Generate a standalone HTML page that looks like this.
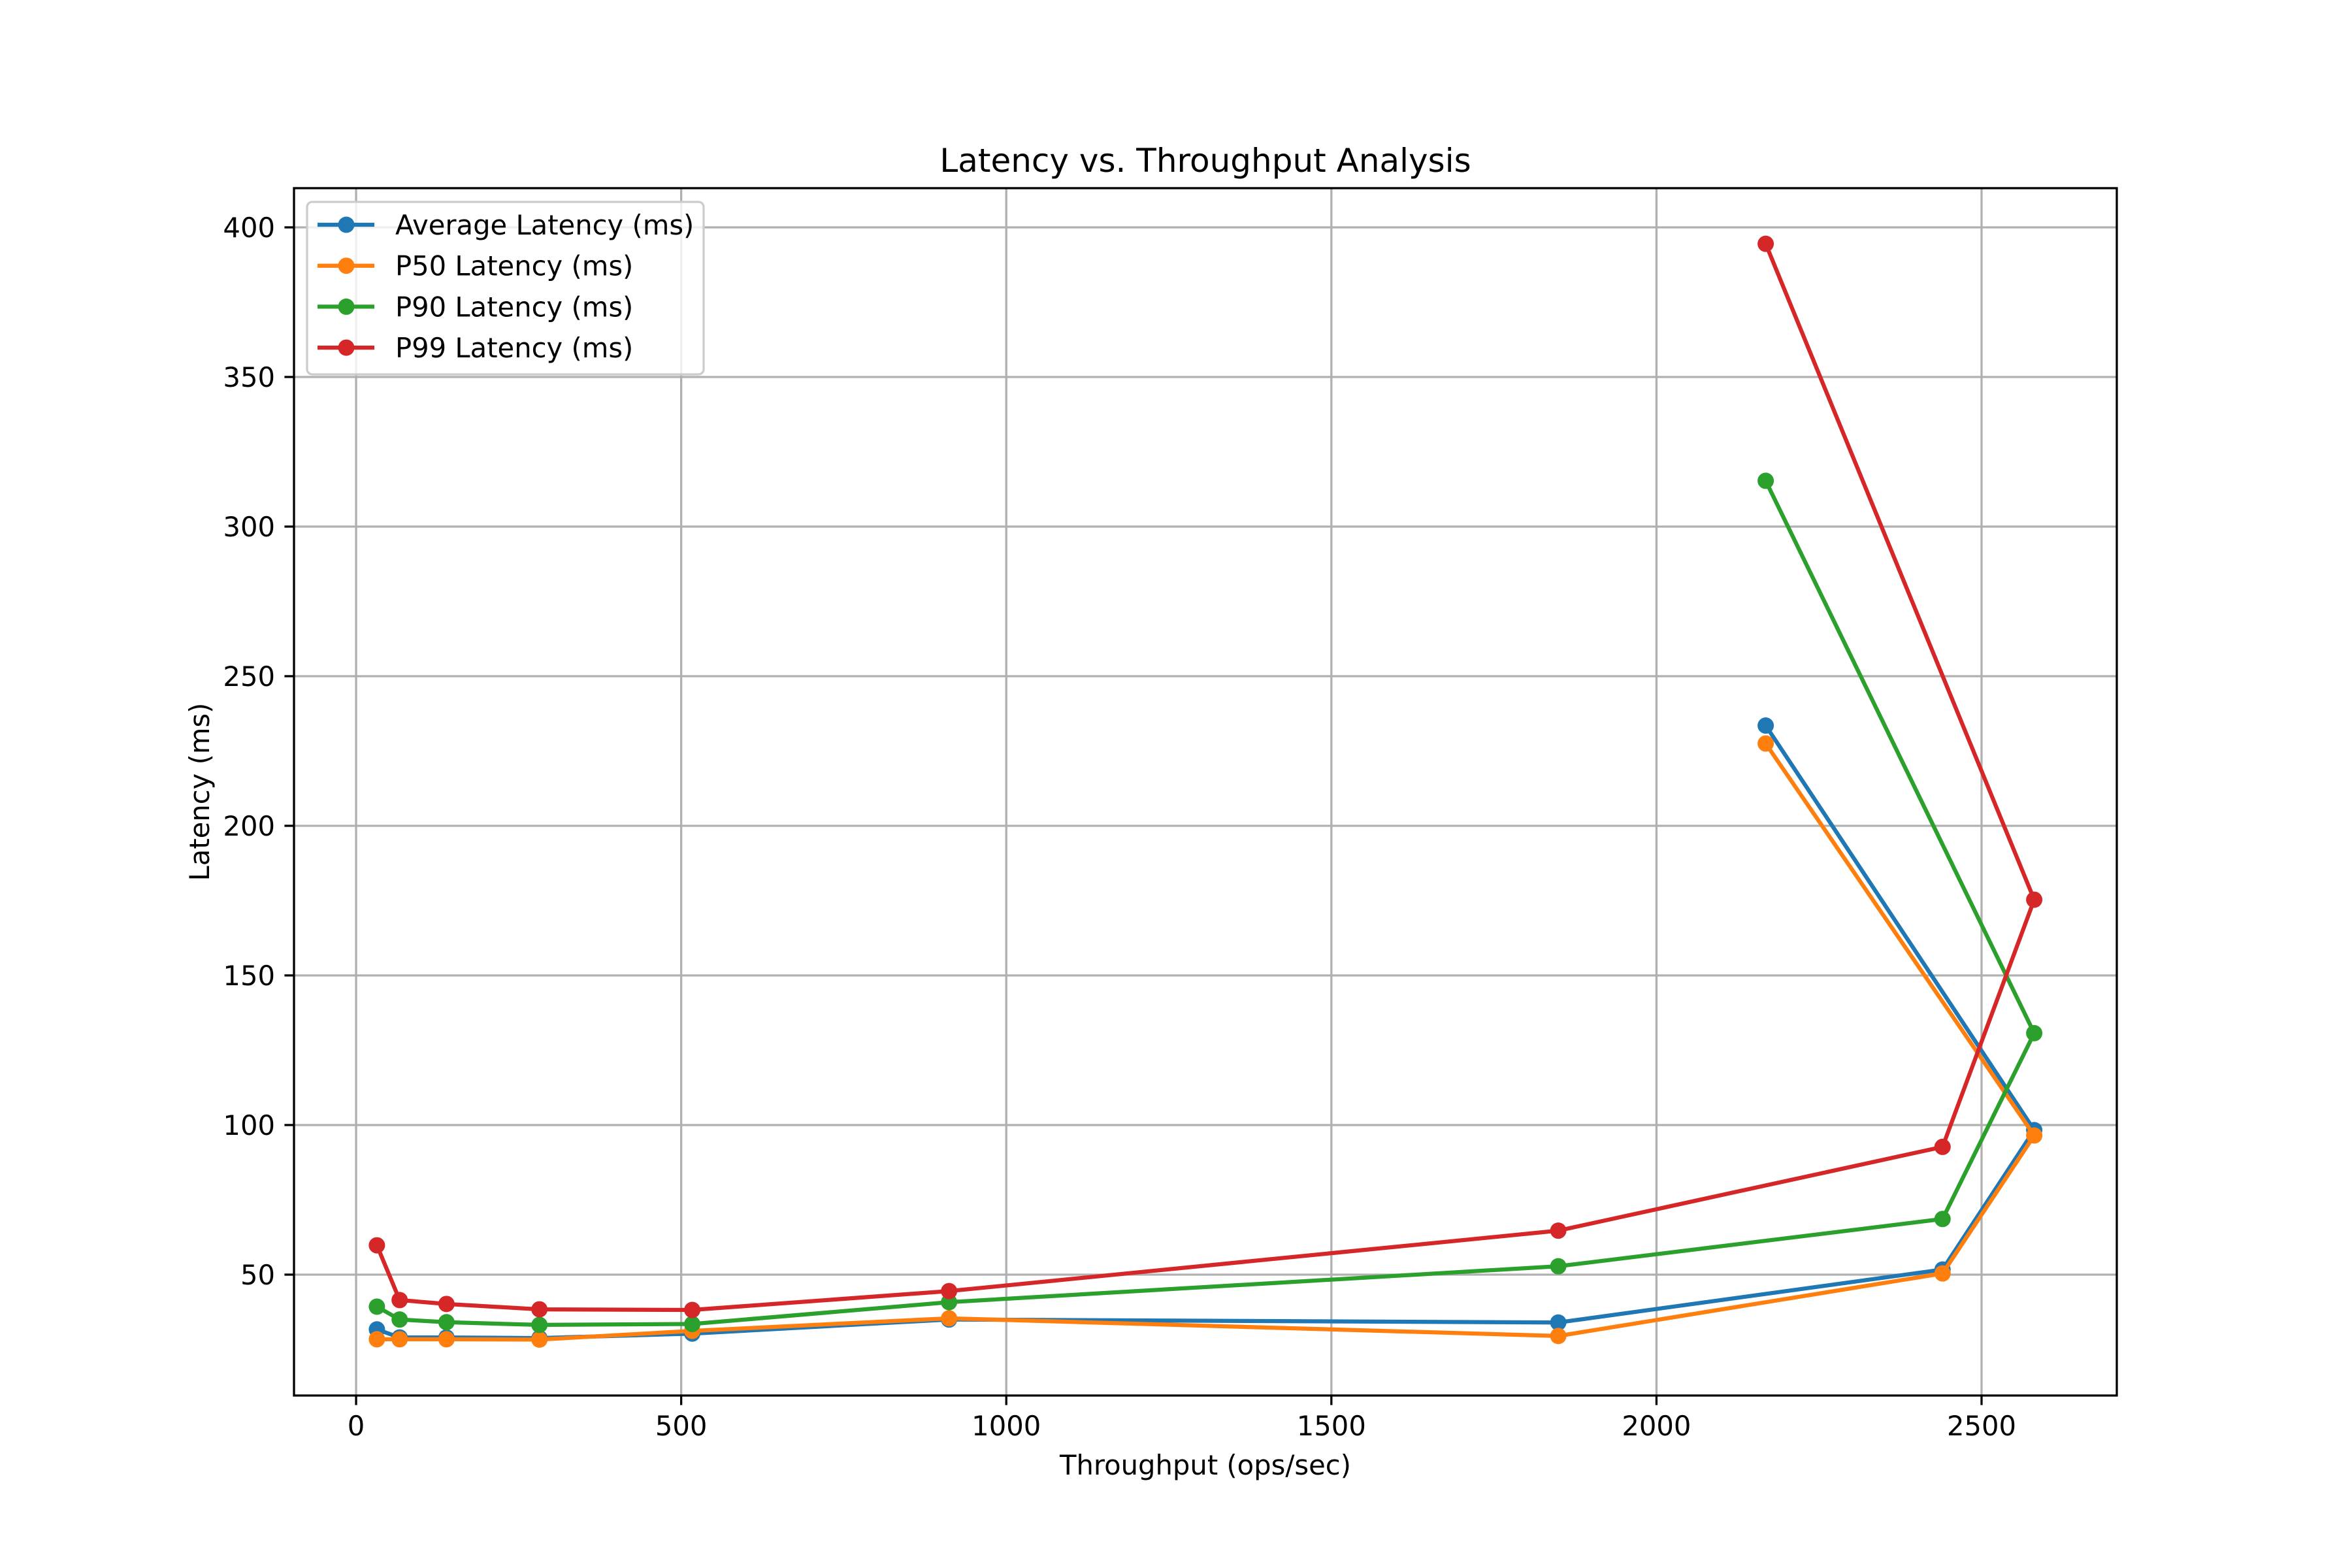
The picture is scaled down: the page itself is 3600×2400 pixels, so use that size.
<!DOCTYPE html>
<html><head><meta charset="utf-8"><style>
html,body{margin:0;padding:0;background:#fff;}
svg{display:block;font-family:"DejaVu Sans","Liberation Sans",sans-serif;}
</style></head><body>
<svg id="chart" width="3600" height="2400" viewBox="0 0 3600 2400" xmlns="http://www.w3.org/2000/svg">
<rect x="0" y="0" width="3600" height="2400" fill="#fff"/>
<g id="grid"></g>
<g id="series"></g>
<rect x="450" y="288" width="2790" height="1848" fill="none" stroke="#000" stroke-width="3.3"/>
<g id="ticks"></g>
<text x="1845" y="263" font-size="50" text-anchor="middle">Latency vs. Throughput Analysis</text>
<text x="1845" y="2257" font-size="41.7" text-anchor="middle">Throughput (ops/sec)</text>
<text transform="translate(320,1212) rotate(-90)" font-size="41.7" text-anchor="middle">Latency (ms)</text>
<g id="legend"></g>
</svg>
<script>
const throughput = [32, 67, 139, 282, 517, 912, 1849, 2440, 2581, 2168];
const avgLatency = [31.7, 29.0, 29.0, 28.8, 30.3, 35.0, 34.0, 51.7, 98.3, 233.5];
const p50Latency = [28.4, 28.4, 28.4, 28.3, 31.2, 35.4, 29.5, 50.4, 96.5, 227.5];
const p90Latency = [39.3, 35.0, 34.1, 33.2, 33.5, 40.8, 52.8, 68.6, 130.7, 315.3];
const p99Latency = [59.8, 41.5, 40.2, 38.4, 38.2, 44.5, 64.7, 92.7, 175.3, 394.5];
const seriesNames = ["Average Latency (ms)", "P50 Latency (ms)", "P90 Latency (ms)", "P99 Latency (ms)"];
const seriesColors = ["#1f77b4", "#ff7f0e", "#2ca02c", "#d62728"];
const xTicks = [0, 500, 1000, 1500, 2000, 2500];
const yTicks = [50, 100, 150, 200, 250, 300, 350, 400];

const NS = "http://www.w3.org/2000/svg";
const L = 450, R = 3240, T = 288, B = 2136;
const xMin = -95.5, xMax = 2708, yMin = 9.6, yMax = 413.1;
function xs(v){ return L + (v - xMin) / (xMax - xMin) * (R - L); }
function ys(v){ return B - (v - yMin) / (yMax - yMin) * (B - T); }
function mk(tag, attrs, parent){ const e = document.createElementNS(NS, tag); for (const k in attrs) e.setAttribute(k, attrs[k]); parent.appendChild(e); return e; }

const grid = document.getElementById("grid");
const ticks = document.getElementById("ticks");
xTicks.forEach(v => {
  const x = xs(v);
  const g = mk("line", {x1:x, x2:x, y1:T, y2:B, stroke:"#b0b0b0", "stroke-width":3.3}, grid);
  
  
  const t = mk("line", {x1:x, x2:x, y1:B, y2:B+14.6, stroke:"#000", "stroke-width":3.3}, ticks);
  
  
  const lb = mk("text", {x:x, y:2197, "font-size":41.7, "text-anchor":"middle"}, ticks);
  lb.textContent = v;
  
  
});
yTicks.forEach(v => {
  const y = ys(v);
  const g = mk("line", {x1:L, x2:R, y1:y, y2:y, stroke:"#b0b0b0", "stroke-width":3.3}, grid);
  
  
  const t = mk("line", {x1:L-14.6, x2:L, y1:y, y2:y, stroke:"#000", "stroke-width":3.3}, ticks);
  
  
  const lb = mk("text", {x:L-29, y:y+15, "font-size":41.7, "text-anchor":"end"}, ticks);
  lb.textContent = v;
  
  
});

const allSeries = [avgLatency, p50Latency, p90Latency, p99Latency];
const sg = document.getElementById("series");
allSeries.forEach((vals, i) => {
  const g = mk("g", {}, sg);
  
  
  const pts = vals.map((v, j) => xs(throughput[j]) + "," + ys(v)).join(" ");
  const pl = mk("polyline", {points:pts, fill:"none", stroke:seriesColors[i], "stroke-width":6.25, "stroke-linejoin":"round", "stroke-linecap":"square"}, g);
  
  
  vals.forEach((v, j) => {
    const c = mk("circle", {cx:xs(throughput[j]), cy:ys(v), r:12.5, fill:seriesColors[i]}, g);
    
    
  });
});

const lg = document.getElementById("legend");
const box = mk("rect", {x:470, y:309, width:607, height:264, rx:8, fill:"#fff", "fill-opacity":0.8, stroke:"#cccccc", "stroke-width":3.3}, lg);


seriesNames.forEach((n, i) => {
  const y = 344 + i * 62.7;
  const e = mk("g", {}, lg);
  
  
  mk("line", {x1:486, x2:573, y1:y, y2:y, stroke:seriesColors[i], "stroke-width":6.25}, e);
  mk("circle", {cx:530, cy:y, r:12.5, fill:seriesColors[i]}, e);
  const t = mk("text", {x:605, y:y+15, "font-size":41.7}, e);
  t.textContent = n;
});
</script>
</body></html>
